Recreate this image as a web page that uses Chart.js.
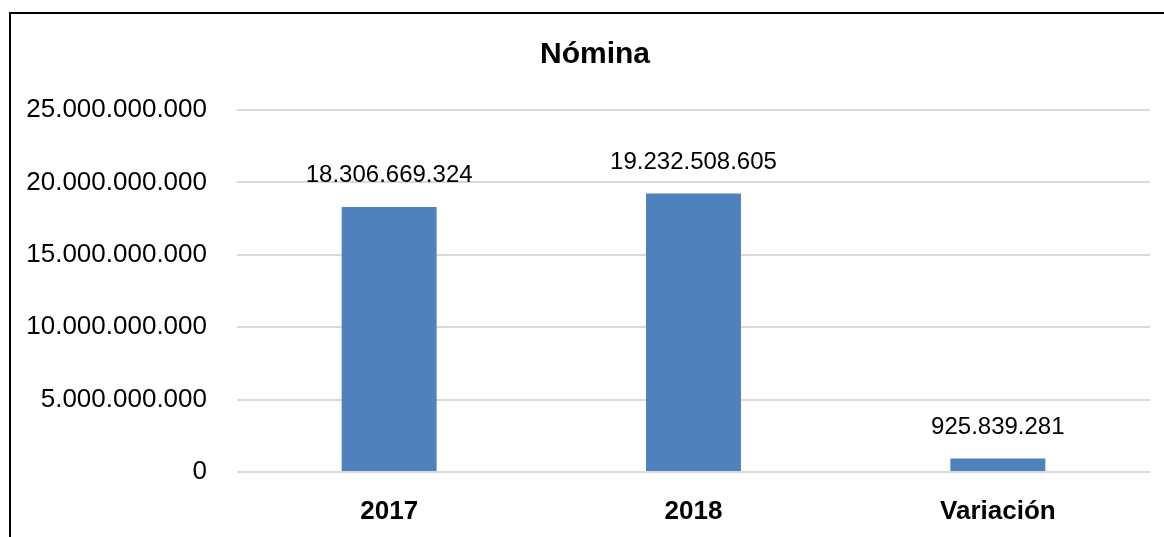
<!DOCTYPE html>
<html>
<head>
	<meta charset="utf-8">
	<title>Nómina</title>
	<script src="https://cdn.jsdelivr.net/npm/chart.js@4.4.1/dist/chart.umd.min.js"></script>
	<style>
		html, body { margin: 0; padding: 0; background: #fff; overflow: hidden; }
		#marco { position: absolute; left: 9px; top: 12px; width: 1300px; height: 700px;
			border-top: 2px solid #000; border-left: 2px solid #000; }
		#wrap { position: absolute; left: 0; top: 0; width: 1164px; height: 537px; }
	</style>
</head>
<body>
<div id="marco"></div>
<div id="wrap">
	<canvas id="myChart" width="1164" height="537"></canvas>
</div>
<script type="text/javascript">
	// datos de la gráfica
	var categorias = ['2017', '2018', 'Variación'];
	var valores = [18306669324, 19232508605, 925839281];
	var titulo = 'Nómina';
	var ejeMin = 0, ejeMax = 25000000000, ejePaso = 5000000000;

	var fuente = "'Liberation Sans', Arial, sans-serif";

	// 18306669324 -> 18.306.669.324
	function puntos(n) {
		return String(Math.round(n)).replace(/\B(?=(\d{3})+(?!\d))/g, '.');
	}

	// titulo y etiquetas de datos
	var extras = {
		id: 'extras',
		afterDatasetsDraw: function(chart) {
			var ctx = chart.ctx;
			ctx.save();
			ctx.fillStyle = '#000';
			ctx.textAlign = 'center';
			ctx.textBaseline = 'alphabetic';
			ctx.font = '24px ' + fuente;
			var meta = chart.getDatasetMeta(0);
			meta.data.forEach(function(bar, i) {
				ctx.fillText(puntos(valores[i]), bar.x, bar.y - 25);
			});
			ctx.font = 'bold 30px ' + fuente;
			ctx.textBaseline = 'middle';
			ctx.fillText(titulo, 595, 55);
			ctx.restore();
		}
	};

	var ctx = document.getElementById('myChart').getContext('2d');
	var chart = new Chart(ctx, {
		type: 'bar',
		data: {
			labels: categorias,
			datasets: [{
				data: valores,
				backgroundColor: '#4f81bd',
				borderWidth: 0,
				barPercentage: 0.52,
				categoryPercentage: 0.6
			}]
		},
		options: {
			responsive: false,
			animation: false,
			devicePixelRatio: 1,
			layout: { padding: { left: 9, right: 14, top: 110, bottom: 0 } },
			plugins: {
				legend: { display: false },
				title: { display: false },
				tooltip: { enabled: false }
			},
			scales: {
				x: {
					grid: { display: false, drawTicks: false },
					border: { display: false },
					ticks: {
						color: '#000',
						padding: 24,
						font: { family: fuente, size: 26, weight: 'bold' }
					},
					afterFit: function(s) { s.height = 65; }
				},
				y: {
					min: ejeMin,
					max: ejeMax,
					grid: { color: '#d9d9d9', lineWidth: 2, drawTicks: false },
					border: { display: false },
					ticks: {
						stepSize: ejePaso,
						color: '#000',
						padding: 30,
						font: { family: fuente, size: 26 },
						callback: function(v) { return puntos(v); }
					},
					afterFit: function(s) { s.width = 228; }
				}
			}
		},
		plugins: [extras]
	});
</script>
</body>
</html>
